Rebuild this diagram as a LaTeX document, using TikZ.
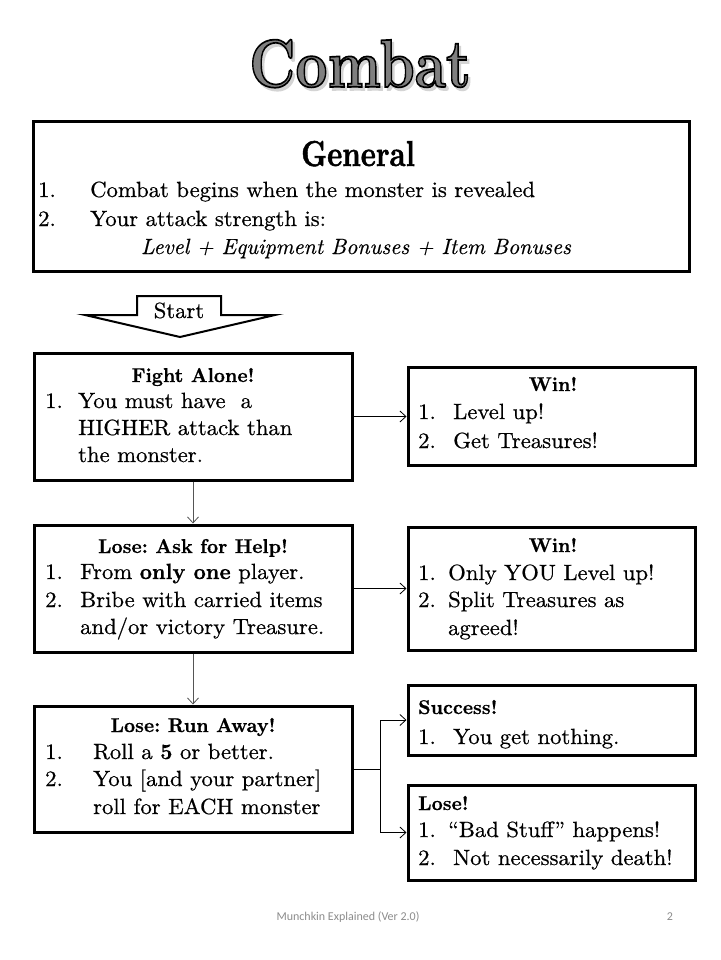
\documentclass[tikz,border=0pt]{standalone}
\usepackage{fontspec}
\usepackage{graphicx}
\usetikzlibrary{arrows.meta}
\setmainfont{lmroman10-regular.otf}[
  BoldFont=lmroman10-bold.otf,
  ItalicFont=lmroman10-italic.otf,
  BoldItalicFont=lmroman10-bolditalic.otf,
  UprightFeatures={FakeStretch=1.03, FakeBold=0.6},
  BoldFeatures={FakeStretch=0.97, FakeBold=0.6},
  ItalicFeatures={FakeStretch=0.99, FakeBold=0.4}]
\newfontfamily\titlefont{lmroman10-bold.otf}[FakeBold=2.5]
\newfontfamily\heavyfont{lmroman10-bold.otf}[FakeBold=1.5]
\newfontfamily\footfont{Carlito}
\definecolor{titlegray}{HTML}{7F7F7F}
\definecolor{shadowgray}{HTML}{D4D4D4}
\definecolor{footgray}{HTML}{8C8C8C}
\definecolor{conngray}{HTML}{555555}
\newcommand\bodyf{\fontsize{22}{27}\selectfont}
\newcommand\ttlf{\fontsize{20}{24}\selectfont\bfseries}
\newcommand\mytitle[1]{\leavevmode
 \rlap{\hspace{3pt}\raisebox{-3pt}{\color{shadowgray}#1}}%
 {\color{titlegray}\special{pdf:literal direct 0 G}#1}}
\frenchspacing
\tikzset{
 box/.style={draw, line width=3pt, fill=white, inner sep=0pt},
 txt/.style={anchor=base west, inner sep=0pt, font=\bodyf},
 ctr/.style={anchor=base, inner sep=0pt, font=\bodyf},
 ttl/.style={anchor=base, inner sep=0pt, font=\ttlf},
 ttlw/.style={anchor=base west, inner sep=0pt, font=\ttlf},
 conn/.style={line width=0.8pt, -{Straight Barb[length=6pt,width=11pt,line width=0.8pt]}},
}
\begin{document}
\begin{tikzpicture}[x=1pt,y=-1pt]
\useasboundingbox[fill=white] (0,0) rectangle (720,960);

% Title
\node[anchor=base, inner sep=0pt] (title) at (360,87)
  {\scalebox{0.82}[1]{\fontsize{68}{68}\selectfont\titlefont\mytitle{Combat}}};

% General box
\node[box, minimum width=656pt, minimum height=149pt] (general) at (361,196.5) {};
\node[anchor=base, inner sep=0pt] (gent) at (358,166)
  {\scalebox{0.8}[1]{\fontsize{36}{40}\selectfont\heavyfont General}};
\node[txt] (g1n) at (38,197) {1.};
\node[txt] (g1) at (90,197) {Combat begins when the monster is revealed};
\node[txt] (g2n) at (38,226) {2.};
\node[txt] (g2) at (90,226) {Your attack strength is:};
\node[ctr] (g3) at (356,254) {\itshape Level + Equipment Bonuses + Item Bonuses};

% Start arrow
\draw[line width=2pt, fill=white, line join=miter]
  (137,296) -- (221,296) -- (221,315) -- (275,315) -- (180,337) -- (85,315) -- (137,315) -- cycle;
\node[ctr] (start) at (179,318) {Start};

% Fight alone
\node[box, minimum width=318pt, minimum height=127pt] (fight) at (193,416.5) {};
\node[ttl] (ft) at (193,382) {Fight Alone!};
\node[txt] (f1n) at (45,408) {1.};
\node[txt] (f1) at (78,408) {You must have\ \ a};
\node[txt] (f2) at (78,435) {HIGHER attack than};
\node[txt] (f3) at (78,462) {the monster.};

% Win 1
\node[box, minimum width=287pt, minimum height=98pt] (win1) at (551.5,416) {};
\node[ttl] (w1t) at (553,391) {Win!};
\node[txt] (w11n) at (418,419) {1.};
\node[txt] (w11) at (453,419) {Level up!};
\node[txt] (w12n) at (418,448) {2.};
\node[txt] (w12) at (453,448) {Get Treasures!};

% Ask for help
\node[box, minimum width=318pt, minimum height=127pt] (ask) at (193,588.5) {};
\node[ttl] (at) at (193,553) {Lose: Ask for Help!};
\node[txt] (a1n) at (45,579) {1.};
\node[txt] (a1) at (80,579) {From \textbf{only one} player.};
\node[txt] (a2n) at (45,607) {2.};
\node[txt] (a2) at (80,607) {Bribe with carried items};
\node[txt] (a3) at (80,634) {and/or victory Treasure.};

% Win 2
\node[box, minimum width=287pt, minimum height=123pt] (win2) at (551.5,588.5) {};
\node[ttl] (w2t) at (553,552) {Win!};
\node[txt] (w21n) at (418,580) {1.};
\node[txt] (w21) at (448,580) {Only YOU Level up!};
\node[txt] (w22n) at (418,607) {2.};
\node[txt] (w22) at (448,607) {Split Treasures as};
\node[txt] (w23) at (448,635) {agreed!};

% Run away
\node[box, minimum width=318pt, minimum height=126pt] (run) at (193,769) {};
\node[ttl] (rt) at (193,732) {Lose: Run Away!};
\node[txt] (r1n) at (45,759) {1.};
\node[txt] (r1) at (93,759) {Roll a \textbf{5} or better.};
\node[txt] (r2n) at (45,786) {2.};
\node[txt] (r2) at (93,786) {You [and your partner]};
\node[txt] (r3) at (93,814) {roll for EACH monster};

% Success
\node[box, minimum width=287pt, minimum height=70pt] (succ) at (551.5,720) {};
\node[ttlw] (st) at (418,714) {Success!};
\node[txt] (s1n) at (418,744) {1.};
\node[txt] (s1) at (453,744) {You get nothing.};

% Lose
\node[box, minimum width=287pt, minimum height=95pt] (lose) at (551.5,832.5) {};
\node[ttlw] (lt) at (418,810) {Lose!};
\node[txt] (l1n) at (418,837) {1.};
\node[txt] (l1) at (448,837) {“Bad Stuff” happens!};
\node[txt] (l2n) at (418,865) {2.};
\node[txt] (l2) at (453,865) {Not necessarily death!};

% Connectors
\draw[conn] (fight.east) -- (fight.east -| win1.west);
\draw[conn] (ask.east) -- (ask.east -| win2.west);
\draw[conn, conngray] (fight.south) -- (ask.north);
\draw[conn, conngray] (ask.south) -- (run.north);
\coordinate (br) at (380,769);
\draw[line width=0.8pt] (run.east) -- (br);
\draw[conn] (br) |- (succ.west);
\draw[conn] (br) |- (lose.west);

% Footer
\node[anchor=base, inner sep=0pt, font=\footfont\fontsize{12}{14}\selectfont, text=footgray] (foot) at (348,920) {Munchkin Explained (Ver 2.0)};
\node[anchor=base, inner sep=0pt, font=\footfont\fontsize{12}{14}\selectfont, text=footgray] (page) at (670,920) {2};
\end{tikzpicture}
\end{document}
